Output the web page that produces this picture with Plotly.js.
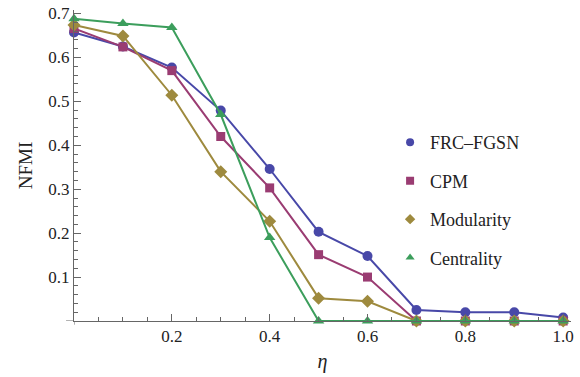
<!DOCTYPE html>
<html><head><meta charset="utf-8">
<script src="https://cdn.plot.ly/plotly-3.0.1.min.js"></script>
<style>html,body{margin:0;padding:0;background:#fff}#c{width:580px;height:377px}</style>
</head><body><div id="c"></div>
<script>
const eta = [0, 0.1, 0.2, 0.3, 0.4, 0.5, 0.6, 0.7, 0.8, 0.9, 1.0];
const frcFgsn = [0.657, 0.625, 0.577, 0.479, 0.346, 0.203, 0.148, 0.025, 0.02, 0.02, 0.008];
const cpm = [0.666, 0.624, 0.570, 0.420, 0.303, 0.151, 0.100, 0, 0, 0, 0];
const modularity = [0.674, 0.649, 0.514, 0.340, 0.227, 0.052, 0.045, 0, 0, 0, 0];
const centrality = [0.688, 0.677, 0.668, 0.470, 0.190, 0, 0, 0, 0, 0, 0];
const names = ["FRC\u2013FGSN", "CPM", "Modularity", "Centrality"];
const xTicks = [0.2, 0.4, 0.6, 0.8, 1.0];
const xTickText = ["0.2", "0.4", "0.6", "0.8", "1.0"];
const yTicks = [0.1, 0.2, 0.3, 0.4, 0.5, 0.6, 0.7];
const yTickText = ["0.1", "0.2", "0.3", "0.4", "0.5", "0.6", "0.7"];

const colors = ["#4848a8", "#9a3c72", "#9e8a3e", "#3c9e5c"];
const symbols = ["circle", "square", "diamond", "triangle-up"];
const sizes = [10, 9, 10, 10];
const series = [frcFgsn, cpm, modularity, centrality];

const traces = [];
series.forEach((ys, i) => {
  traces.push({
    x: eta, y: ys, mode: "lines+markers", showlegend: false, cliponaxis: false,
    line: {color: colors[i], width: 2},
    marker: {color: colors[i], symbol: symbols[i], size: sizes[i]}
  });
});
series.forEach((ys, i) => {
  traces.push({
    x: [null], y: [null], mode: "markers", name: names[i], legendgroup: "g" + i,
    marker: {color: colors[i], symbol: symbols[i], size: 8}
  });
});

const fam = "'Liberation Serif', 'DejaVu Serif', serif";
const font = {family: fam, color: "#222", size: 16};
const layout = {
  width: 580, height: 377,
  margin: {l: 74, r: 9, t: 10, b: 56},
  paper_bgcolor: "#fff", plot_bgcolor: "#fff",
  font: font,
  showlegend: true,
  legend: {x: 0.636, y: 0.633, xanchor: "left", yanchor: "top", font: {family: fam, size: 18, color: "#222"},
           traceorder: "grouped", tracegroupgap: 12, bgcolor: "rgba(0,0,0,0)", itemwidth: 30},
  xaxis: {range: [0, 1.016], showgrid: false, zeroline: false, showline: true, linecolor: "#666", linewidth: 1,
          tickvals: xTicks, ticktext: xTickText, ticks: "inside", ticklen: 7, tickcolor: "#666",
          minor: {dtick: 0.05, tick0: 0, ticks: "inside", ticklen: 4, tickcolor: "#666"},
          tickfont: {family: fam, size: 17, color: "#222"},
          title: {text: "<i>η</i>", font: {family: fam, size: 20, color: "#222"}, standoff: 8}},
  yaxis: {range: [0, 0.708], showgrid: false, zeroline: false, showline: true, linecolor: "#666", linewidth: 1,
          tickvals: yTicks, ticktext: yTickText, ticks: "inside", ticklen: 7, tickcolor: "#666",
          minor: {dtick: 0.02, tick0: 0, ticks: "inside", ticklen: 4, tickcolor: "#666"},
          tickfont: {family: fam, size: 17, color: "#222"},
          title: {text: "NFMI", font: {family: fam, size: 19, color: "#222"}, standoff: 10}},
  shapes: [
    {type: "line", xref: "paper", yref: "y", x0: -0.016, x1: 0, y0: 0, y1: 0, line: {color: "#666", width: 1}},
    {type: "line", xref: "x", yref: "paper", x0: 0, x1: 0, y0: -0.012, y1: 0, line: {color: "#666", width: 1}}
  ]
};
Plotly.newPlot("c", traces, layout, {displayModeBar: false, staticPlot: true});
</script></body></html>
